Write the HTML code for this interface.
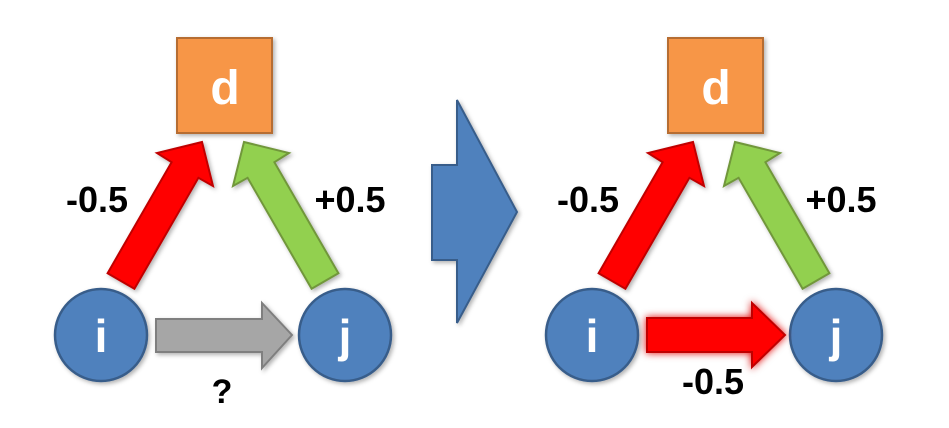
<!DOCTYPE html>
<html><head><meta charset="utf-8"><style>
html,body{margin:0;padding:0;background:#fff;}
svg{display:block;}
text{font-family:"Liberation Sans",sans-serif;font-weight:bold;}
</style></head><body>
<svg width="949" height="428" viewBox="0 0 949 428" xmlns="http://www.w3.org/2000/svg">
<defs>
<filter id="sh" x="-20%" y="-20%" width="150%" height="150%"><feDropShadow dx="2" dy="2" stdDeviation="2" flood-color="#000" flood-opacity="0.3"/></filter>
<filter id="glow" x="-30%" y="-50%" width="160%" height="200%"><feGaussianBlur in="SourceGraphic" stdDeviation="4" result="b"/><feMerge><feMergeNode in="b"/><feMergeNode in="SourceGraphic"/></feMerge></filter>
<g id="base">
 <rect x="177" y="38" width="95" height="95" fill="#f79646" stroke="#b66d31" stroke-width="2" filter="url(#sh)"/>
 <text x="225" y="104" font-size="48" fill="#fff" text-anchor="middle">d</text>
 <polygon points="107.6,273.2 134.4,288.8 198.4,177.8 213,186 202,142 157,153 171.6,162.2" fill="#ff0000" stroke="#c00000" stroke-width="2" filter="url(#sh)"/>
 <polygon points="338.4,273.2 311.6,288.8 247.6,177.8 233,186 244,142 289,153 274.4,162.2" fill="#92d050" stroke="#71973a" stroke-width="2" filter="url(#sh)"/>
 <circle cx="101" cy="335" r="46" fill="#4f81bd" stroke="#385d8a" stroke-width="2.5" filter="url(#sh)"/>
 <circle cx="345" cy="335" r="46" fill="#4f81bd" stroke="#385d8a" stroke-width="2.5" filter="url(#sh)"/>
 <text x="101" y="352" font-size="46" fill="#fff" text-anchor="middle">i</text>
 <text x="345" y="352" font-size="46" fill="#fff" text-anchor="middle">j</text>
 <text x="97" y="212" font-size="36" fill="#000" text-anchor="middle">-0.5</text>
 <text x="350" y="212" font-size="36" fill="#000" text-anchor="middle">+0.5</text>
</g>
</defs>
<use href="#base"/>
<polygon points="156,319 262,319 262,303 292,335 262,368 262,352 156,352" fill="#a6a6a6" stroke="#7f7f7f" stroke-width="2" filter="url(#sh)"/>
<text x="222" y="403" font-size="34" fill="#000" text-anchor="middle">?</text>
<polygon points="432,165 457,165 457,100 517,212 457,323 457,260 432,260" fill="#4f81bd" stroke="#385d8a" stroke-width="2" filter="url(#sh)"/>
<use href="#base" transform="translate(491,0)"/>
<polygon points="647,318 752,318 752,303 785,335 752,367 752,352 647,352" fill="#ff0000" stroke="#c00000" stroke-width="2" filter="url(#glow)"/>
<text x="713" y="394" font-size="36" fill="#000" text-anchor="middle">-0.5</text>
</svg>
</body></html>
